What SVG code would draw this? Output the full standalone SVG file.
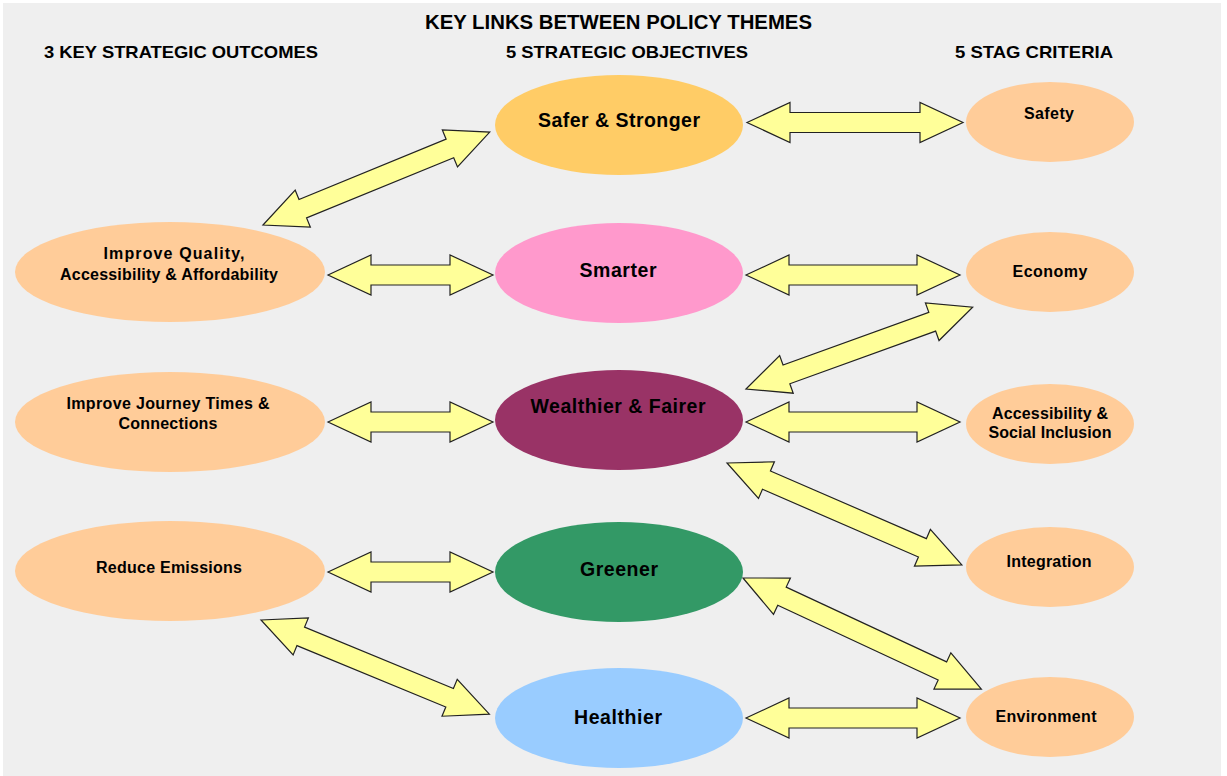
<svg xmlns="http://www.w3.org/2000/svg" width="1227" height="776" viewBox="0 0 1227 776">
<style>
.bg{fill:#efefef}
.hd{font-family:"Liberation Sans",Arial,sans-serif;font-weight:bold;fill:#000}
.lb{font-family:"Liberation Sans",Arial,sans-serif;font-weight:bold;fill:#000;text-anchor:middle}
.big{font-size:19.5px}
.sm{font-size:16px}
.arr{fill:#ffff99;stroke:#222;stroke-width:1.2;stroke-linejoin:miter}
.pale{fill:#ffcc99}
</style>
<rect class="bg" x="3" y="3" width="1218" height="773"/>
<g id="headings">
<text class="hd" x="425" y="29" font-size="20" textLength="387" lengthAdjust="spacingAndGlyphs">KEY LINKS BETWEEN POLICY THEMES</text>
<text class="hd" x="44" y="58" font-size="17" textLength="274" lengthAdjust="spacingAndGlyphs">3 KEY STRATEGIC OUTCOMES</text>
<text class="hd" x="506" y="58" font-size="17" textLength="242" lengthAdjust="spacingAndGlyphs">5 STRATEGIC OBJECTIVES</text>
<text class="hd" x="955" y="58" font-size="17" textLength="158" lengthAdjust="spacingAndGlyphs">5 STAG CRITERIA</text>
</g>
<g id="connectors">
<polygon class="arr" transform="translate(747,122.5)" points="0,0 43,-20 43,-10 173,-10 173,-20 216,0 173,20 173,10 43,10 43,20"/>
<polygon class="arr" transform="translate(328,275)" points="0,0 43,-20 43,-10 122,-10 122,-20 165,0 122,20 122,10 43,10 43,20"/>
<polygon class="arr" transform="translate(746,275)" points="0,0 43,-20 43,-10 171,-10 171,-20 214,0 171,20 171,10 43,10 43,20"/>
<polygon class="arr" transform="translate(328,422)" points="0,0 43,-20 43,-10 122,-10 122,-20 165,0 122,20 122,10 43,10 43,20"/>
<polygon class="arr" transform="translate(746,422)" points="0,0 43,-20 43,-10 171,-10 171,-20 214,0 171,20 171,10 43,10 43,20"/>
<polygon class="arr" transform="translate(328,572)" points="0,0 43,-20 43,-10 122,-10 122,-20 165,0 122,20 122,10 43,10 43,20"/>
<polygon class="arr" transform="translate(746,718)" points="0,0 43,-20 43,-10 171,-10 171,-20 214,0 171,20 171,10 43,10 43,20"/>
<polygon class="arr" transform="translate(263,225) rotate(-22.28)" points="0,0 43,-20 43,-10 202,-10 202,-20 245,0 202,20 202,10 43,10 43,20"/>
<polygon class="arr" transform="translate(746,389) rotate(-19.86)" points="0,0 43,-20 43,-10 198,-10 198,-20 241,0 198,20 198,10 43,10 43,20"/>
<polygon class="arr" transform="translate(727,463) rotate(23.46)" points="0,0 43,-20 43,-10 213,-10 213,-20 256,0 213,20 213,10 43,10 43,20"/>
<polygon class="arr" transform="translate(743,578) rotate(25)" points="0,0 43,-20 43,-10 220,-10 220,-20 263,0 220,20 220,10 43,10 43,20"/>
<polygon class="arr" transform="translate(261,620) rotate(22.4)" points="0,0 43,-20 43,-10 204,-10 204,-20 247,0 204,20 204,10 43,10 43,20"/>
</g>
<g id="quality">
<ellipse class="pale" cx="170" cy="272" rx="155" ry="50"/>
<text class="lb sm" x="174" y="259" textLength="141">Improve Quality,</text>
<text class="lb sm" x="169" y="280" textLength="218">Accessibility &amp; Affordability</text>
</g>
<g id="journey">
<ellipse class="pale" cx="170" cy="422" rx="155" ry="50"/>
<text class="lb sm" x="168" y="409" textLength="203">Improve Journey Times &amp;</text>
<text class="lb sm" x="168" y="429" textLength="99">Connections</text>
</g>
<g id="emissions">
<ellipse class="pale" cx="170" cy="571" rx="155" ry="50"/>
<text class="lb sm" x="169" y="573" textLength="146">Reduce Emissions</text>
</g>
<g id="safer">
<ellipse cx="619" cy="125" rx="124" ry="50" fill="#ffcc66"/>
<text class="lb big" x="619" y="127" textLength="162">Safer &amp; Stronger</text>
</g>
<g id="smarter">
<ellipse cx="619" cy="273" rx="124" ry="50" fill="#ff99cc"/>
<text class="lb big" x="618" y="277" textLength="77">Smarter</text>
</g>
<g id="wealthier">
<ellipse cx="619" cy="420" rx="124" ry="50" fill="#993366"/>
<text class="lb big" x="618" y="413" textLength="175">Wealthier &amp; Fairer</text>
</g>
<g id="greener">
<ellipse cx="619" cy="572" rx="124" ry="50" fill="#339966"/>
<text class="lb big" x="619" y="576" textLength="78">Greener</text>
</g>
<g id="healthier">
<ellipse cx="619" cy="718" rx="124" ry="50" fill="#99ccff"/>
<text class="lb big" x="618" y="724" textLength="88">Healthier</text>
</g>
<g id="safety">
<ellipse class="pale" cx="1050" cy="122" rx="84" ry="40"/>
<text class="lb sm" x="1049" y="119" textLength="50">Safety</text>
</g>
<g id="economy">
<ellipse class="pale" cx="1050" cy="272" rx="84" ry="40"/>
<text class="lb sm" x="1050" y="277" textLength="75">Economy</text>
</g>
<g id="accessibility">
<ellipse class="pale" cx="1050" cy="424" rx="84" ry="40"/>
<text class="lb sm" x="1050" y="419" textLength="116">Accessibility &amp;</text>
<text class="lb sm" x="1050" y="438" textLength="123">Social Inclusion</text>
</g>
<g id="integration">
<ellipse class="pale" cx="1050" cy="567" rx="84" ry="40"/>
<text class="lb sm" x="1049" y="567" textLength="85">Integration</text>
</g>
<g id="environment">
<ellipse class="pale" cx="1050" cy="717" rx="84" ry="40"/>
<text class="lb sm" x="1046" y="722" textLength="101">Environment</text>
</g>
</svg>
